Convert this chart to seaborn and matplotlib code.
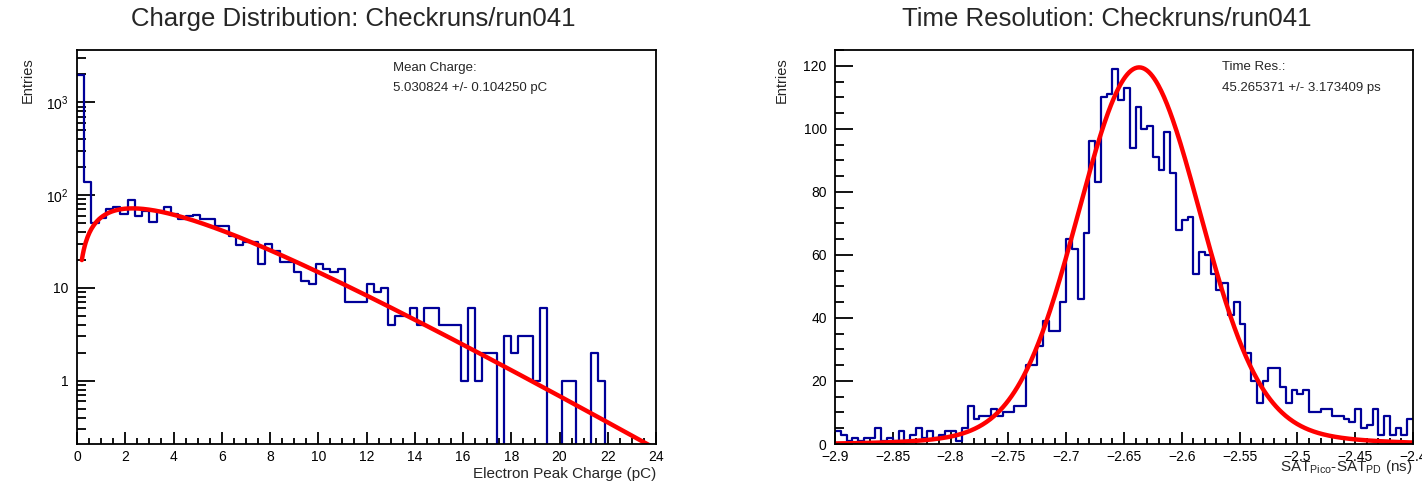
import numpy as np
import pandas as pd
import matplotlib
matplotlib.use("Agg")
import matplotlib.pyplot as plt
import seaborn as sns
from matplotlib.ticker import MultipleLocator, FixedLocator, FixedFormatter, LogLocator, NullFormatter, FuncFormatter

# ---------------- data ----------------
# Left: charge histogram (80 bins of 0.3 pC from 0 to 24 pC)
charge_min = 0.0
charge_bin_width = 0.3
charge_counts = [1950, 140, 50, 57, 71, 74, 63, 89, 60, 68,
                 51, 68, 75, 63, 55, 60, 61, 55, 55, 47,
                 47, 36, 29, 31, 31, 18, 30, 25, 19, 19,
                 15, 12, 11, 18, 16, 15, 16, 7, 7, 7,
                 11, 9, 10, 4, 5, 5, 6, 4, 6, 6,
                 4, 4, 4, 1, 6, 1, 2, 2, 0, 3,
                 2, 3, 3, 1, 6, 0, 0, 1, 1, 0,
                 0, 2, 1, 0, 0, 0, 0, 0, 0, 0]
# Polya fit parameters
polya_amp = 322.0
polya_mean = 5.03
polya_theta = 0.84
polya_range = [0.2, 24.0]
charge_stat_title = "Mean Charge:"
charge_stat_value = "5.030824 +/- 0.104250 pC"

# Right: time histogram (100 bins of 0.005 ns from -2.9 to -2.4 ns)
time_min = -2.9
time_bin_width = 0.005
time_counts = [4, 3, 1, 2, 1, 2, 2, 5, 1, 2,
               1, 4, 1, 3, 5, 2, 4, 2, 3, 4,
               4, 1, 5, 12, 8, 9, 9, 11, 9, 10,
               10, 12, 12, 25, 25, 31, 39, 36, 36, 45,
               65, 62, 46, 67, 96, 83, 110, 111, 119, 109,
               113, 94, 107, 100, 101, 91, 87, 99, 86, 68,
               71, 72, 54, 61, 60, 54, 49, 51, 41, 45,
               38, 29, 20, 13, 20, 24, 24, 18, 13, 17,
               16, 17, 10, 10, 11, 11, 9, 9, 8, 7,
               11, 5, 6, 11, 3, 9, 3, 5, 3, 8]
# Double-Gaussian fit parameters
fit_core_amp = 113.0
fit_core_mean = -2.637
fit_core_sigma = 0.052
fit_tail_amp = 6.5
fit_tail_mean = -2.63
fit_tail_sigma = 0.10
time_range = [-2.9, -2.4]
time_stat_title = "Time Res.:"
time_stat_value = "45.265371 +/- 3.173409 ps"

titles = ["Charge Distribution: Checkruns/run041", "Time Resolution: Checkruns/run041"]
xlabels = ["Electron Peak Charge (pC)", r"SAT$_{\mathregular{Pico}}$-SAT$_{\mathregular{PD}}$ (ns)"]
ylabel = "Entries"

# ---------------- style ----------------
sns.set_style("ticks")
plt.rcParams['font.family'] = ['Liberation Sans', 'DejaVu Sans']
plt.rcParams['mathtext.fontset'] = 'custom'
plt.rcParams['mathtext.rm'] = 'Liberation Sans'
plt.rcParams['mathtext.it'] = 'Liberation Sans'
plt.rcParams['mathtext.default'] = 'regular'
plt.rcParams['axes.unicode_minus'] = True

HIST_COLOR = "#000099"
FIT_COLOR = "#ff0000"
W, H = 1422, 486
fig = plt.figure(figsize=(W / 100, H / 100), dpi=100)

def ax_rect(x0, x1, ytop, ybot):
    return [x0 / W, 1 - ybot / H, (x1 - x0) / W, (ybot - ytop) / H]

axL = fig.add_axes(ax_rect(77, 656, 50, 444))
axR = fig.add_axes(ax_rect(835, 1413, 50, 444))

# ---------------- left panel ----------------
c_counts = np.array(charge_counts, dtype=float)
n_c = len(c_counts)
c_centers = charge_min + charge_bin_width * (np.arange(n_c) + 0.5)
dfL = pd.DataFrame({"charge": c_centers, "n": c_counts})
sns.histplot(data=dfL, x="charge", weights="n", binwidth=charge_bin_width,
             binrange=(charge_min, charge_min + n_c * charge_bin_width), element="step",
             fill=False, color=HIST_COLOR, linewidth=1.6, ax=axL)
axL.set_yscale("log")
xf = np.linspace(polya_range[0], polya_range[1], 600)
yf = polya_amp * (xf / polya_mean) ** polya_theta * np.exp(-(polya_theta + 1) * xf / polya_mean)
sns.lineplot(x=xf, y=yf, color=FIT_COLOR, linewidth=3.2, ax=axL)
axL.set_xlim(0, 24)
axL.set_ylim(0.208, 3660)
axL.xaxis.set_major_locator(MultipleLocator(2))
axL.xaxis.set_minor_locator(MultipleLocator(0.5))
axL.yaxis.set_major_locator(FixedLocator([1, 10, 100, 1000]))
axL.yaxis.set_major_formatter(FixedFormatter(["1", "10", r"$10^{2}$", r"$10^{3}$"]))
axL.yaxis.set_minor_locator(LogLocator(base=10, subs=np.arange(2, 10)))
axL.yaxis.set_minor_formatter(NullFormatter())
axL.text(0.5458, 0.954, charge_stat_title, transform=axL.transAxes, fontsize=9.5, va="center", ha="left")
axL.text(0.5458, 0.9036, charge_stat_value, transform=axL.transAxes, fontsize=9.5, va="center", ha="left")

# ---------------- right panel ----------------
t_counts = np.array(time_counts, dtype=float)
n_t = len(t_counts)
t_centers = time_min + time_bin_width * (np.arange(n_t) + 0.5)
dfR = pd.DataFrame({"dt": t_centers, "n": t_counts})
sns.histplot(data=dfR, x="dt", weights="n", binwidth=time_bin_width,
             binrange=(time_min, time_min + n_t * time_bin_width), element="step",
             fill=False, color=HIST_COLOR, linewidth=1.6, ax=axR)
xt = np.linspace(time_range[0], time_range[1], 600)
yt = (fit_core_amp * np.exp(-0.5 * ((xt - fit_core_mean) / fit_core_sigma) ** 2)
      + fit_tail_amp * np.exp(-0.5 * ((xt - fit_tail_mean) / fit_tail_sigma) ** 2))
sns.lineplot(x=xt, y=yt, color=FIT_COLOR, linewidth=3.2, ax=axR)
axR.set_xlim(time_range)
axR.set_ylim(0, 125)
axR.xaxis.set_major_locator(MultipleLocator(0.05))
axR.xaxis.set_minor_locator(MultipleLocator(0.01))
axR.xaxis.set_major_formatter(FuncFormatter(lambda v, p: ("%g" % round(v, 3)).replace("-", "\u2212")))
axR.yaxis.set_major_locator(MultipleLocator(20))
axR.yaxis.set_minor_locator(MultipleLocator(5))
axR.text(0.6696, 0.957, time_stat_title, transform=axR.transAxes, fontsize=9.5, va="center", ha="left")
axR.text(0.6696, 0.9036, time_stat_value, transform=axR.transAxes, fontsize=9.5, va="center", ha="left")

# ---------------- common styling ----------------
for ax, xl, ylab_x, axw, xl_y in [(axL, xlabels[0], 28, (77, 656), 474), (axR, xlabels[1], 782, (835, 1413), 467)]:
    ax.set_xlabel("")
    ax.set_ylabel("")
    for s in ax.spines.values():
        s.set_visible(True)
        s.set_linewidth(1.3)
        s.set_color("black")
    ax.tick_params(axis="both", which="both", direction="in", top=False, right=False,
                   colors="black", labelsize=10, width=1.3)
    ax.tick_params(axis="x", which="major", length=9, pad=4)
    ax.tick_params(axis="x", which="minor", length=4.5)
    ax.tick_params(axis="y", which="major", length=13, pad=6)
    ax.tick_params(axis="y", which="minor", length=6.5)
    ax.grid(False)
    ax.text(1.0, -(xl_y - 444) / 394, xl,
            transform=ax.transAxes, ha="right", va="center", fontsize=11)
    ax.text((ylab_x - axw[0]) / (axw[1] - axw[0]), 0.982, ylabel, transform=ax.transAxes,
            rotation=90, ha="center", va="top", fontsize=10.5)

fig.text(353 / W, 1 - 19 / H, titles[0], ha="center", va="center", fontsize=18.5)
fig.text(1107 / W, 1 - 19 / H, titles[1], ha="center", va="center", fontsize=18.5)

fig.savefig("out.png", dpi=100, facecolor="white")
